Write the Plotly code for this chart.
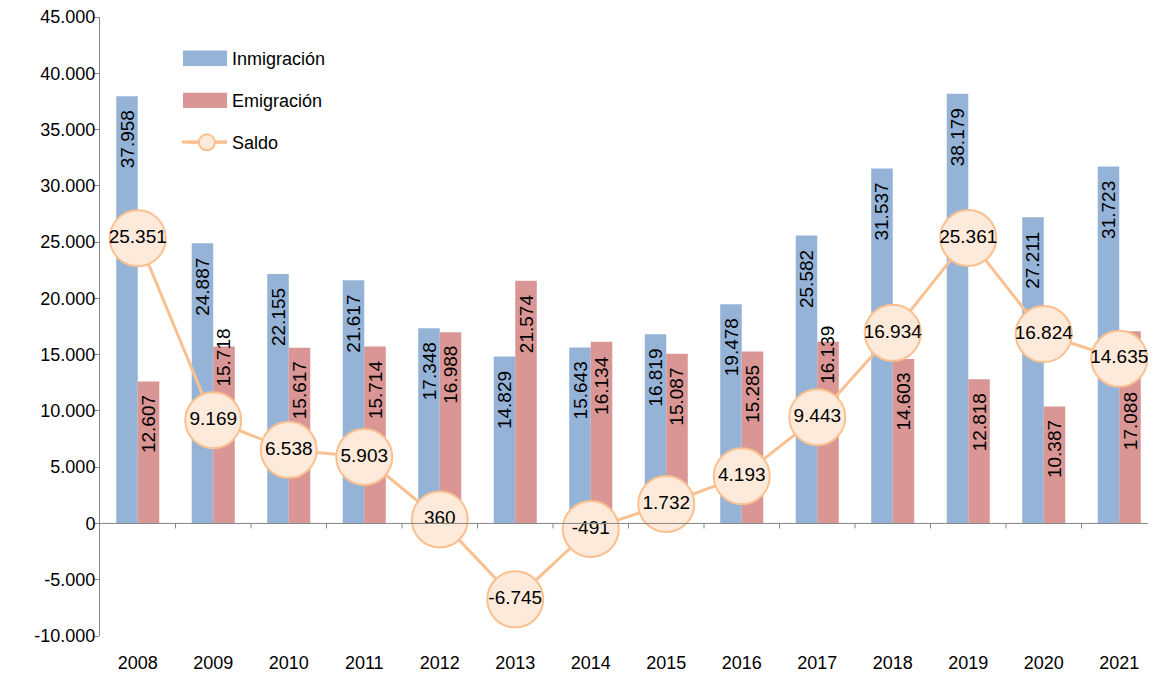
import plotly.graph_objects as go

years = ["2008", "2009", "2010", "2011", "2012", "2013", "2014", "2015", "2016", "2017", "2018", "2019", "2020", "2021"]
inmigracion = [37958, 24887, 22155, 21617, 17348, 14829, 15643, 16819, 19478, 25582, 31537, 38179, 27211, 31723]
emigracion = [12607, 15718, 15617, 15714, 16988, 21574, 16134, 15087, 15285, 16139, 14603, 12818, 10387, 17088]
saldo = [25351, 9169, 6538, 5903, 360, -6745, -491, 1732, 4193, 9443, 16934, 25361, 16824, 14635]
ytick_vals = [-10000, -5000, 0, 5000, 10000, 15000, 20000, 25000, 30000, 35000, 40000, 45000]

# style: manual label nudges (px, positive = upward) as in the original chart
label_nudge = {("em", "2009"): 32, ("em", "2017"): 30, ("em", "2021"): -47}


def fmt(v):
    return f"{v:,}".replace(",", ".")


FONT = "Liberation Sans"
BLUE = "#95B3D7"
RED = "#D99694"
LINE = "#FAC090"
AXIS = "#868686"
BARGAP = 0.43
half = 75.5 * (1 - BARGAP) / 4  # offset of each bar centre from category centre (px)
LABEL_PAD = 12

fig = go.Figure()
fig.add_trace(go.Bar(x=years, y=inmigracion, name="Inmigración", legendgroup="a",
                     marker=dict(color=BLUE, line=dict(width=0))))
fig.add_trace(go.Bar(x=years, y=emigracion, name="Emigración", legendgroup="b",
                     marker=dict(color=RED, line=dict(width=0))))
fig.add_trace(go.Scatter(
    x=years, y=saldo, name="Saldo", legendgroup="c",
    mode="lines+markers+text",
    line=dict(color=LINE, width=3),
    marker=dict(size=56, color="#FDEADA", line=dict(color=LINE, width=2)),
    text=[fmt(v) for v in saldo],
    textposition="middle center",
    textfont=dict(family=FONT, size=19, color="black"),
))

annotations = []
for key, vals, sh in (("in", inmigracion, -half), ("em", emigracion, half)):
    for i, (yr, v) in enumerate(zip(years, vals)):
        annotations.append(dict(
            x=i, y=v, xref="x", yref="y", text=fmt(v), showarrow=False,
            textangle=-90, xanchor="center", yanchor="top",
            xshift=sh, yshift=-LABEL_PAD + label_nudge.get((key, yr), 0),
            font=dict(family=FONT, size=19, color="black"),
        ))

shapes = [dict(type="line", xref="paper", yref="y", x0=0, x1=1, y0=0, y1=0,
               line=dict(color=AXIS, width=1), layer="above")]
for i in range(len(years)):
    shapes.append(dict(type="line", xref="x", yref="y", x0=i + 0.5, x1=i + 0.5,
                       ysizemode="pixel", yanchor=0, y0=0, y1=-5,
                       line=dict(color=AXIS, width=1), layer="above"))
# wider legend swatches (Excel style), placed under the legend symbols
shapes += [
    dict(type="rect", xref="paper", yref="paper", x0=0.0785, x1=0.1202, y0=0.9209, y1=0.9457,
         fillcolor=BLUE, line=dict(width=0), layer="above"),
    dict(type="rect", xref="paper", yref="paper", x0=0.0785, x1=0.1202, y0=0.8530, y1=0.8778,
         fillcolor=RED, line=dict(width=0), layer="above"),
    dict(type="line", xref="paper", yref="paper", x0=0.0775, x1=0.1202, y0=0.798, y1=0.798,
         line=dict(color=LINE, width=3), layer="above"),
]

fig.update_layout(
    width=1156, height=679,
    margin=dict(l=92, r=7, t=9, b=51, autoexpand=False),
    plot_bgcolor="white", paper_bgcolor="white",
    barmode="group", bargap=BARGAP, bargroupgap=0,
    font=dict(family=FONT, size=18, color="black"),
    showlegend=True,
    legend=dict(x=0.0775, y=0.964, xanchor="left", yanchor="top",
                bgcolor="rgba(0,0,0,0)", font=dict(size=18), tracegroupgap=16,
                itemwidth=40),
    annotations=annotations,
    shapes=shapes,
)
fig.update_xaxes(
    type="category", range=[-0.5, 13.5], automargin=False,
    showline=False, ticks="", showgrid=False, zeroline=False,
    tickfont=dict(size=18), ticklabelstandoff=14,
)
fig.update_yaxes(
    range=[-10000, 45000], automargin=False,
    tickvals=ytick_vals, ticktext=[fmt(v) for v in ytick_vals],
    showline=True, linecolor=AXIS, linewidth=1,
    ticks="outside", ticklen=5, tickcolor=AXIS,
    showgrid=False, zeroline=False, ticklabeloverflow="allow",
    tickfont=dict(size=18), ticklabelstandoff=-5,
)

fig.write_html("out.html")
